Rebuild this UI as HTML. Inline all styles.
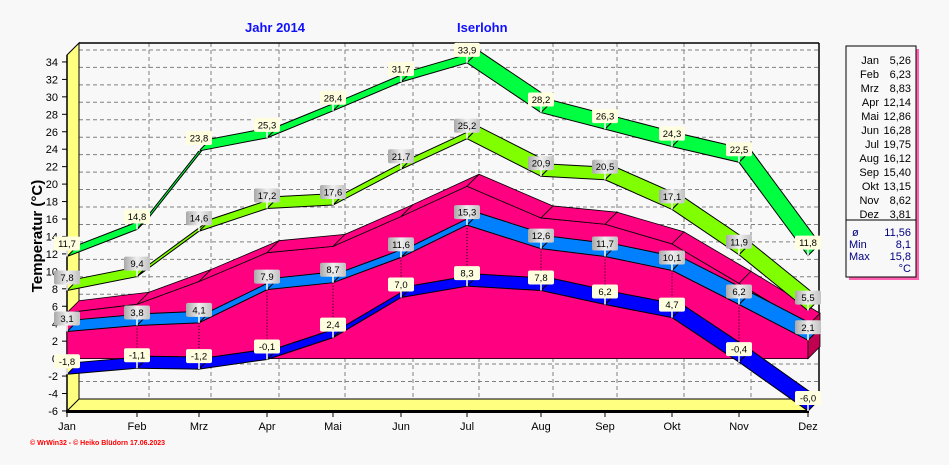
<!DOCTYPE html>
<html><head><meta charset="utf-8"><style>
body{margin:0;background:#f8f8f8;width:949px;height:465px;overflow:hidden}
svg{display:block;font-family:"Liberation Sans",sans-serif}
</style></head><body>
<svg id="s" width="949" height="465" viewBox="0 0 949 465" xmlns="http://www.w3.org/2000/svg">
<rect width="949" height="465" fill="#f8f8f8"/>
<text x="245" y="32" fill="#1010ff" font-size="13" font-weight="bold">Jahr  2014</text>
<text x="457" y="32" fill="#1010ff" font-size="13" font-weight="bold">Iserlohn</text>
<text transform="translate(42,236) rotate(-90)" text-anchor="middle" font-size="15" font-weight="bold">Temperatur  (°C)</text>
<g id="grid"></g>
<polygon points="67,55 79,43 79,400 67,411" fill="#ffff80" stroke="#000"/>
<polygon points="67,411 79,399 819,399 808,411" fill="#ffff80" stroke="#000"/>
<line x1="79" y1="43" x2="819" y2="43" stroke="#000" stroke-width="1.5"/>
<line x1="819" y1="43" x2="819" y2="400" stroke="#000" stroke-width="1.5"/>
<line x1="66" y1="411.5" x2="809" y2="411.5" stroke="#000" stroke-width="3"/>
<line x1="67" y1="55" x2="67" y2="412" stroke="#000" stroke-width="1.5"/>
<g id="series"></g>
<g id="labels" font-size="9.5"></g>
<text x="30" y="445" fill="#ff0000" font-size="7" font-weight="bold">© WrWin32  -  © Heiko Blüdorn  17.06.2023</text>
<rect x="849" y="49" width="70" height="231" fill="#ff60b0"/>
<rect x="846" y="46" width="70" height="231" fill="#f8f8f8" stroke="#000"/>
<line x1="846" y1="220" x2="916" y2="220" stroke="#000"/>
<g id="leg" font-size="11"></g>
</svg>
<script>
const NS="http://www.w3.org/2000/svg";
function el(p,t,a,txt){const e=document.createElementNS(NS,t);for(const k in a)e.setAttribute(k,a[k]);if(txt!=null)e.textContent=txt;document.getElementById(p).appendChild(e);return e;}
const X=[67,137,199,267,333,401,467,541,605,672,739,808];
const M=["Jan","Feb","Mrz","Apr","Mai","Jun","Jul","Aug","Sep","Okt","Nov","Dez"];
const Y=v=>358.6-8.725*v;
const D=12;
for(let v=-6;v<=34;v+=2){
  const y=Y(v);
  if(v>-6) el("grid","line",{x1:79,y1:y-D,x2:819,y2:y-D,stroke:"#808080","stroke-dasharray":"4,3"});
  el("grid","line",{x1:62,y1:y,x2:67,y2:y,stroke:"#000"});
  el("grid","text",{x:58,y:y+4,"text-anchor":"end","font-size":"11"},String(v));
}
X.forEach((x,i)=>{
  if(i>0&&i<11) el("grid","line",{x1:x+D,y1:43,x2:x+D,y2:400,stroke:"#808080","stroke-dasharray":"4,3"});
  el("grid","line",{x1:x,y1:411,x2:x,y2:417,stroke:"#000"});
  el("grid","text",{x:x,y:430,"text-anchor":"middle","font-size":"11"},M[i]);
});
const mean=[5.26,6.23,8.83,12.14,12.86,16.28,19.75,16.12,15.40,13.15,8.62,3.81];
const gmax=[11.7,14.8,23.8,25.3,28.4,31.7,33.9,28.2,26.3,24.3,22.5,11.8];
const mmax=[7.8,9.4,14.6,17.2,17.6,21.7,25.2,20.9,20.5,17.1,11.9,5.5];
const lb=[3.1,3.8,4.1,7.9,8.7,11.6,15.3,12.6,11.7,10.1,6.2,2.1];
const db=[-1.8,-1.1,-1.2,-0.1,2.4,7.0,8.3,7.8,6.2,4.7,-0.4,-6.0];
let pf=X.map((x,i)=>x+","+Y(mean[i])).join(" ");
el("series","polygon",{points:pf+" 808,"+Y(0)+" 67,"+Y(0),fill:"#ff0080",stroke:"#000","stroke-width":"0.8"});
for(let i=0;i<11;i++){
  el("series","polygon",{points:`${X[i]},${Y(mean[i])} ${X[i+1]},${Y(mean[i+1])} ${X[i+1]+D},${Y(mean[i+1])-D} ${X[i]+D},${Y(mean[i])-D}`,fill:"#ff0080",stroke:"#000","stroke-width":"0.8"});
}
el("series","polygon",{points:`808,${Y(mean[11])} 820,${Y(mean[11])-D} 820,${Y(0)-D} 808,${Y(0)}`,fill:"#c00050",stroke:"#000","stroke-width":"0.8"});
X.forEach((x,i)=>{ if(i>0&&i<11) el("series","line",{x1:x,y1:Y(lb[i]),x2:x,y2:Y(Math.max(db[i],0)),stroke:"#000","stroke-dasharray":"1,2"}); });
function ribbon(d,c){for(let i=0;i<11;i++){
  el("series","polygon",{points:`${X[i]},${Y(d[i])} ${X[i+1]},${Y(d[i+1])} ${X[i+1]+D},${Y(d[i+1])-D} ${X[i]+D},${Y(d[i])-D}`,fill:c,stroke:"#000","stroke-width":"1"});
}}
ribbon(db,"#0000ff");ribbon(lb,"#0080ff");ribbon(mmax,"#80ff00");ribbon(gmax,"#00ff40");
const gr=el("labels","defs",{});
gr.innerHTML='<linearGradient id="g" x1="0" y1="0" x2="1" y2="0"><stop offset="0" stop-color="#a8a8a8"/><stop offset="0.5" stop-color="#f0f0f0"/><stop offset="1" stop-color="#c0c0c0"/></linearGradient>';
function labs(d,gray){d.forEach((v,i)=>{
  const x=X[i],y=Y(v);const t=v.toFixed(1).replace(".",",");
  el("labels","line",{x1:x,y1:y-7,x2:x,y2:y,stroke:"#fff","stroke-width":"1.5"});
  el("labels","rect",{x:x-13,y:y-20,width:26,height:14,rx:2,fill:gray?"url(#g)":"#ffffe0"});
  el("labels","text",{x:x,y:y-9.5,"text-anchor":"middle"},t);
});}
labs(gmax,false);labs(mmax,true);labs(lb,true);labs(db,false);
M.forEach((m,i)=>{const y=60+i*14;
  el("leg","text",{x:879,y:y+4,"text-anchor":"end"},m);
  el("leg","text",{x:911,y:y+4,"text-anchor":"end"},mean[i].toFixed(2).replace(".",","));
});
[["ø","11,56",236],["Min","8,1",248],["Max","15,8",260]].forEach(r=>{
  el("leg","text",{x:r[0]=="ø"?852:849,y:r[2],fill:"#000080"},r[0]);
  el("leg","text",{x:911,y:r[2],"text-anchor":"end",fill:"#000080"},r[1]);
});
el("leg","text",{x:911,y:272,"text-anchor":"end",fill:"#000080"},"°C");
</script>
</body></html>
